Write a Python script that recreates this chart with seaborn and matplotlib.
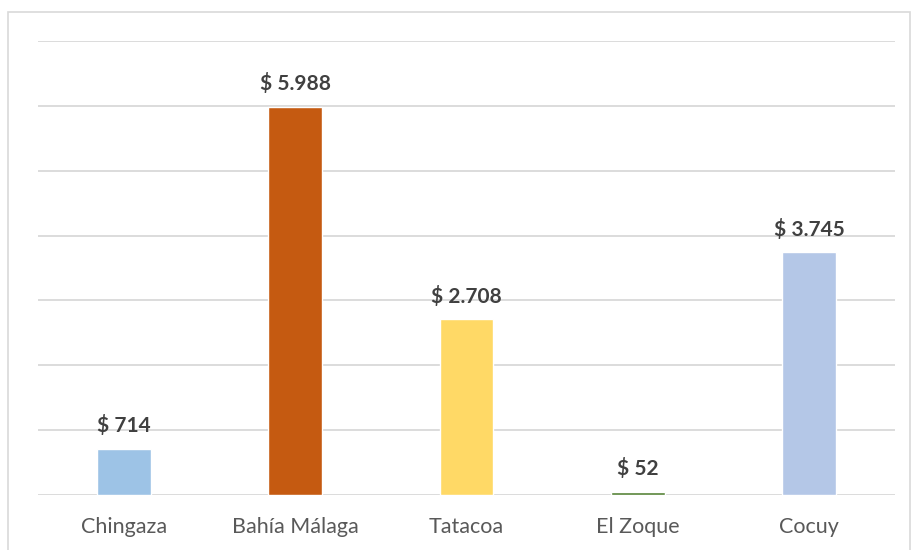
import matplotlib
matplotlib.use("Agg")
import matplotlib.pyplot as plt
import seaborn as sns
import pandas as pd
from matplotlib.patches import Rectangle

# --- Datos ---
parques = ["Chingaza", "Bahía Málaga", "Tatacoa", "El Zoque", "Cocuy"]
valores = [714, 5988, 2708, 52, 3745]
colores = ["#9DC3E6", "#C55A11", "#FFD966", "#548235", "#B4C7E7"]

df = pd.DataFrame({"parque": parques, "valor": valores})

sns.set_style("white")
plt.rcParams["font.family"] = ["Lato", "DejaVu Sans"]

fig = plt.figure(figsize=(9.13, 5.5), dpi=100)
ax = fig.add_axes([38 / 913, 1 - 495 / 550, (895 - 38) / 913, (495 - 41) / 550])

sns.barplot(data=df, x="parque", y="valor", hue="parque", palette=colores,
            width=0.315, legend=False, ax=ax, saturation=1, zorder=3)

ax.set_ylim(0, 7000)
ax.set_xlim(-0.5, len(parques) - 0.5)
ax.set_yticks(range(0, 7001, 1000))
ax.yaxis.grid(True, color="#D9D9D9", linewidth=1.3, zorder=0)
ax.set_yticklabels([])
ax.tick_params(axis="y", length=0)
ax.tick_params(axis="x", length=0, pad=16, labelsize=15.5, labelcolor="#595959")
ax.set_xlabel("")
ax.set_ylabel("")
for s in ax.spines.values():
    s.set_visible(False)

# Etiquetas de valor
for i, v in enumerate(valores):
    txt = "$ " + f"{v:,}".replace(",", ".")
    ax.annotate(txt, (i, v), xytext=(0, 9), textcoords="offset points",
                ha="center", va="bottom", fontsize=15, fontweight="bold",
                color="#404040")

# Borde del gráfico
fig.patches.append(Rectangle((8 / 913, -0.05), (910 - 8) / 913, 1.05 - 12 / 550,
                             transform=fig.transFigure, fill=False,
                             edgecolor="#D9D9D9", linewidth=1.2))

fig.savefig("out.png", dpi=100)
